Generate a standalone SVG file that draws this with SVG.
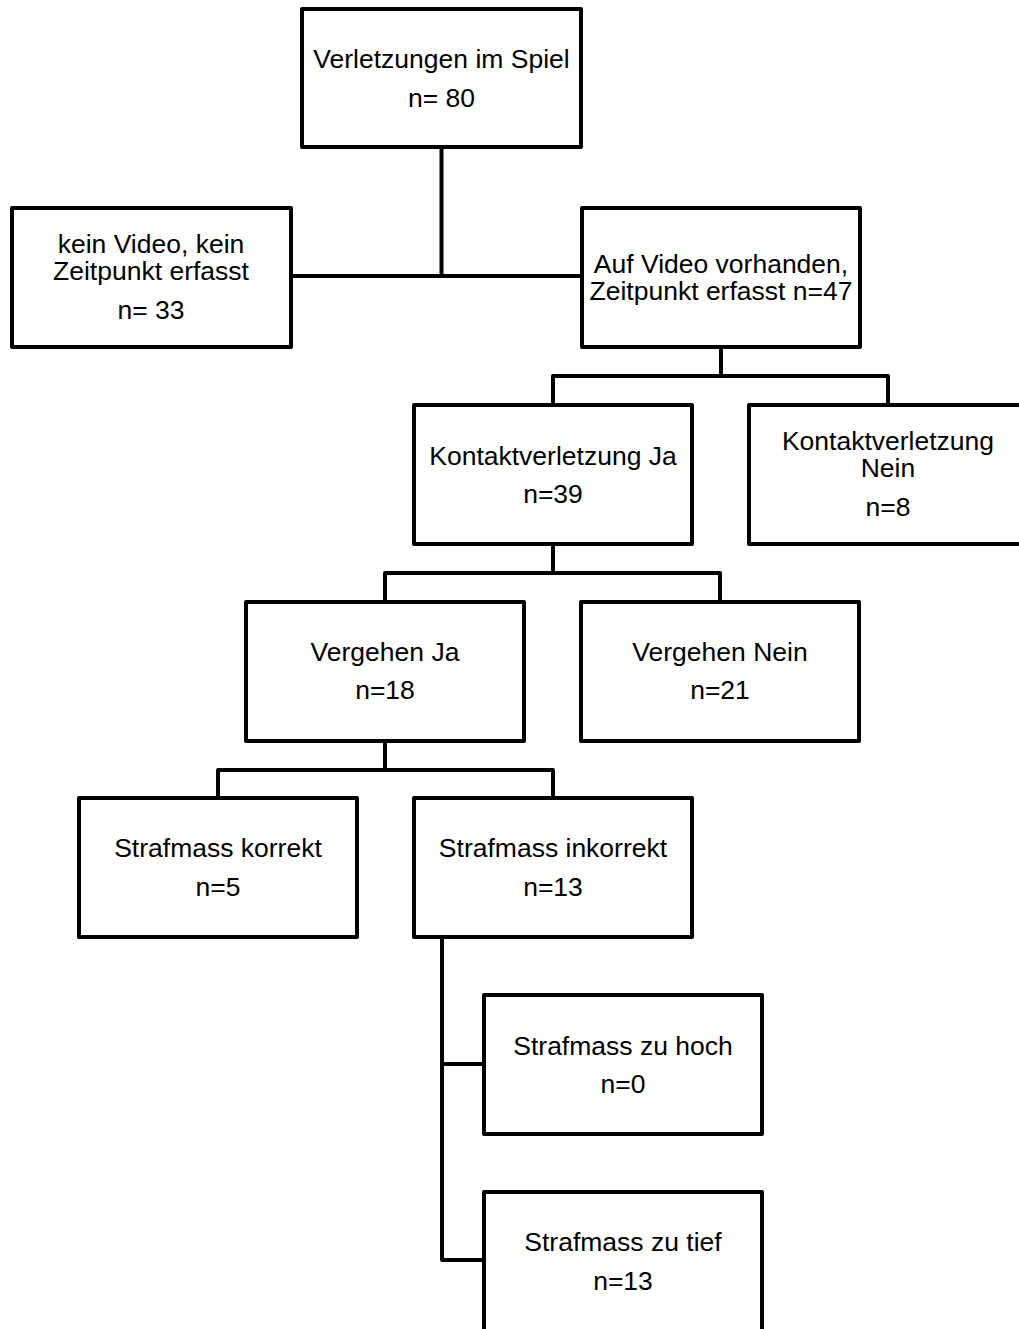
<svg xmlns="http://www.w3.org/2000/svg" width="1019" height="1329" viewBox="0 0 1019 1329">
<style>
.box{fill:#fff;stroke:#000;stroke-width:4;stroke-linejoin:round}
.ln{fill:none;stroke:#000;stroke-width:4;stroke-linejoin:round}
text{font-family:"Liberation Sans",Arial,sans-serif;font-size:26.5px;fill:#000;text-anchor:middle}
</style>
<rect width="1019" height="1329" fill="#fff"/>
<g id="connectors">
<path class="ln" d="M441.5 147 V276 M292 276 H582"/>
<path class="ln" d="M721 347 V376 M553 404 V376 H888 V404"/>
<path class="ln" d="M553 544 V573 M385 601 V573 H720 V601"/>
<path class="ln" d="M385 741 V770 M218 798 V770 H553 V798"/>
<path class="ln" d="M442 937 V1260 H484 M442 1064 H484"/>
</g>
<g id="n1"><rect class="box" x="302" y="9" width="279" height="138"/>
<text x="441.5" y="68">Verletzungen im Spiel</text><text x="441.5" y="107">n= 80</text></g>
<g id="n2"><rect class="box" x="12" y="208" width="279" height="139"/>
<text x="151" y="253">kein Video, kein</text><text x="151" y="280">Zeitpunkt erfasst</text><text x="151" y="319">n= 33</text></g>
<g id="n3"><rect class="box" x="582" y="208" width="278" height="139"/>
<text x="721" y="273">Auf Video vorhanden,</text><text x="721" y="300">Zeitpunkt erfasst n=47</text></g>
<g id="n4"><rect class="box" x="414" y="405" width="278" height="139"/>
<text x="553" y="465">Kontaktverletzung Ja</text><text x="553" y="503">n=39</text></g>
<g id="n5"><rect class="box" x="749" y="405" width="280" height="139"/>
<text x="888" y="450">Kontaktverletzung</text><text x="888" y="477">Nein</text><text x="888" y="516">n=8</text></g>
<g id="n6"><rect class="box" x="246" y="602" width="278" height="139"/>
<text x="385" y="661">Vergehen Ja</text><text x="385" y="699">n=18</text></g>
<g id="n7"><rect class="box" x="581" y="602" width="278" height="139"/>
<text x="720" y="661">Vergehen Nein</text><text x="720" y="699">n=21</text></g>
<g id="n8"><rect class="box" x="79" y="798" width="278" height="139"/>
<text x="218" y="857">Strafmass korrekt</text><text x="218" y="896">n=5</text></g>
<g id="n9"><rect class="box" x="414" y="798" width="278" height="139"/>
<text x="553" y="857">Strafmass inkorrekt</text><text x="553" y="896">n=13</text></g>
<g id="n10"><rect class="box" x="484" y="995" width="278" height="139"/>
<text x="623" y="1055">Strafmass zu hoch</text><text x="623" y="1093">n=0</text></g>
<g id="n11"><rect class="box" x="484" y="1192" width="278" height="145"/>
<text x="623" y="1251">Strafmass zu tief</text><text x="623" y="1290">n=13</text></g>
</svg>
